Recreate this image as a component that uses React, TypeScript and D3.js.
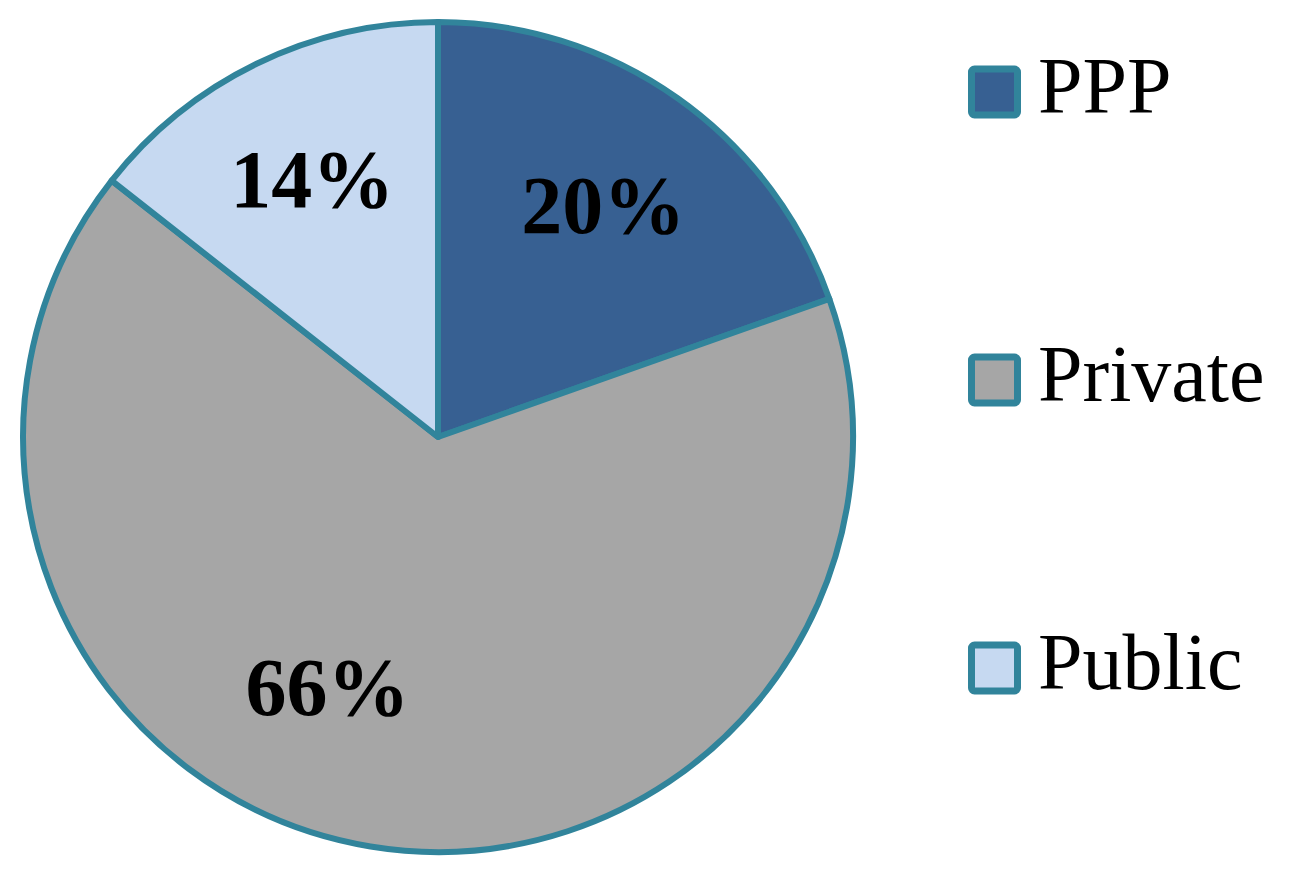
import React from "react";
import * as d3 from "d3";

const categories = ["PPP", "Private", "Public"];
const values = [19.6, 66.0, 14.4];
const labels = ["20%", "66%", "14%"];
const colors = ["#376092", "#A6A6A6", "#C6D9F1"];
// label placement tweaks per slice
const labelAngleShift = [0, 14.6, 0];
const labelRadius = [286, 272, 288];

const W = 1290;
const H = 873;
const cx = 438;
const cy = 437;
const R = 415;
const stroke = "#31849B";

export default function App() {
  const pie = d3.pie<number>().sort(null).value((d) => d);
  const arcs = pie(values);
  const arc = d3.arc<d3.PieArcDatum<number>>().innerRadius(0).outerRadius(R);
  const legendY = d3.scalePoint<string>().domain(categories).range([92, 668]);
  return (
    <svg width={W} height={H} style={{ position: "absolute", left: 0, top: 0 }}>
      <rect width={W} height={H} fill="#fff" />
      <g transform={`translate(${cx},${cy})`}>
        {arcs.map((a, i) => (
          <path key={i} d={arc(a) || ""} fill={colors[i]} stroke={stroke} strokeWidth={6} strokeLinejoin="round" />
        ))}
        {arcs.map((a, i) => {
          const mid = (a.startAngle + a.endAngle) / 2 + (labelAngleShift[i] * Math.PI) / 180;
          const x = Math.sin(mid) * labelRadius[i];
          const y = -Math.cos(mid) * labelRadius[i];
          return (
            <text key={i} x={x} y={y + 29} textAnchor="middle" fontFamily="'Liberation Serif', serif" fontWeight="bold" fontSize={82} fill="#000">
              {labels[i]}
            </text>
          );
        })}
      </g>
      {categories.map((c, i) => {
        const y = legendY(c)!;
        return (
          <g key={c}>
            <rect x={971.5} y={y - 23} width={46} height={46} rx={3} fill={colors[i]} stroke={stroke} strokeWidth={7} />
            <text x={1038} y={y + 21} fontFamily="'Liberation Serif', serif" fontSize={80} fill="#000">
              {c}
            </text>
          </g>
        );
      })}
    </svg>
  );
}
